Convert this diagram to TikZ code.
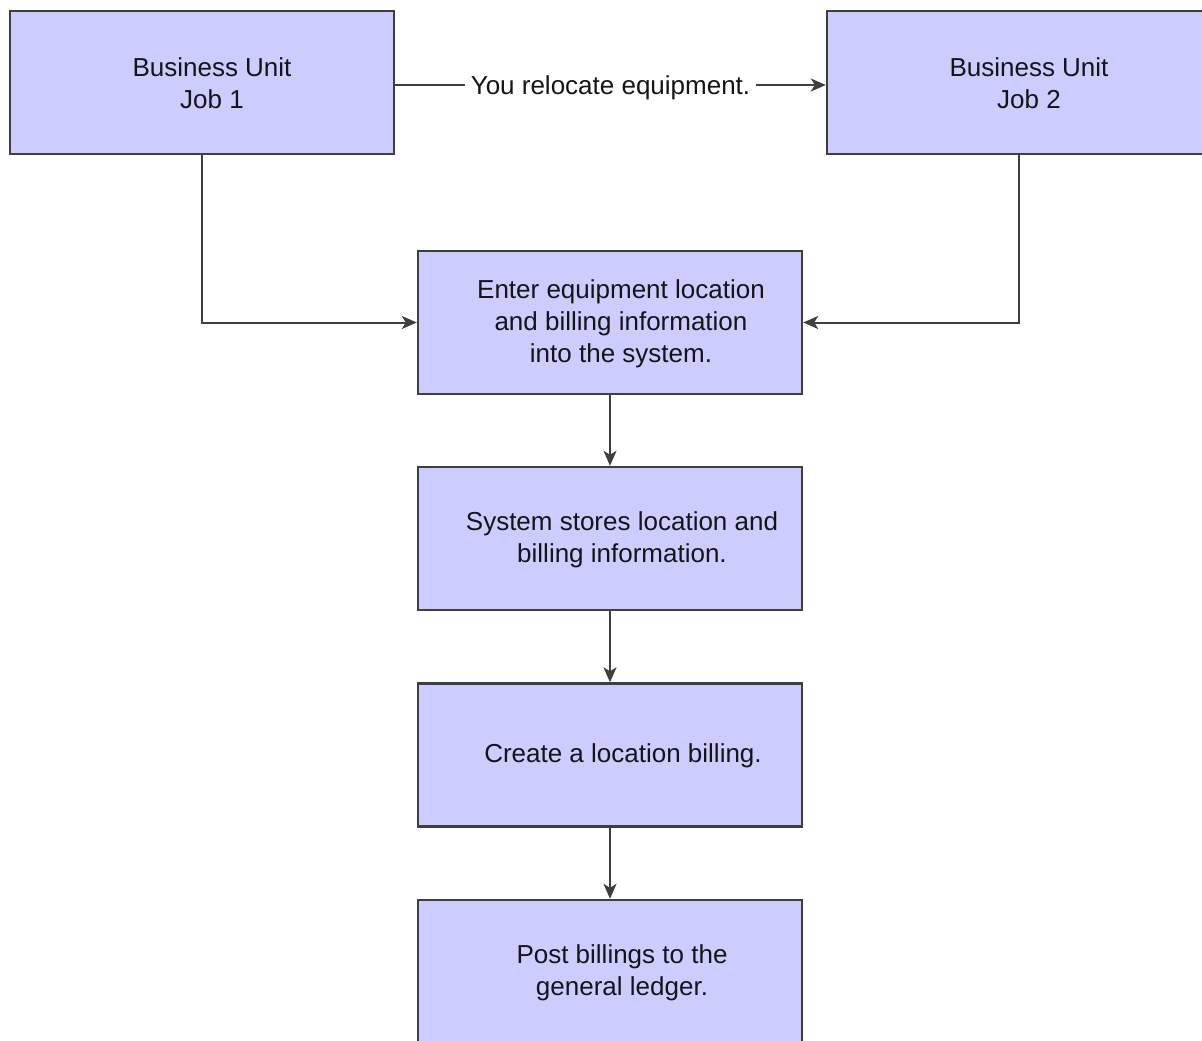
\documentclass[tikz,border=0pt]{standalone}
\usepackage{fontspec}
\setmainfont{Liberation Sans}
\usetikzlibrary{arrows.meta}
\definecolor{boxfill}{HTML}{CCCCFF}
\definecolor{edge}{HTML}{3F3F3F}
\definecolor{ink}{HTML}{151515}
\begin{document}
\begin{tikzpicture}[x=1pt,y=-1pt,
  procbox/.style={draw=edge,fill=boxfill,line width=2.4pt,rectangle,minimum width=384pt,minimum height=143pt,inner sep=0pt},
  boxtext/.style={text=ink,align=center,font=\fontsize{26}{32}\selectfont,inner sep=0pt},
  conn/.style={draw=edge,line width=2pt},
  arr/.style={conn,-{Stealth[length=15pt,width=13pt,inset=4pt]}}]
\clip (0,0) rectangle (1202,1041);
\useasboundingbox (0,0) rectangle (1202,1041);
\node[procbox] (j1) at (202,82.5) {};
\node[procbox] (j2) at (1019,82.5) {};
\node[procbox] (enter) at (610,322.5) {};
\node[procbox] (store) at (610,538.5) {};
\node[procbox] (create) at (610,755) {};
\node[procbox] (post) at (610,971.5) {};
\node[boxtext] (t1) at (212,83) {Business Unit\\Job 1};
\node[boxtext] (t2) at (1029,83) {Business Unit\\Job 2};
\node[boxtext] (t3) at (621,324) {Enter equipment location\\and billing information\\into the system.};
\node[boxtext] (t4) at (622,540) {System stores location and\\billing information.};
\node[boxtext] (t5) at (623,756) {Create a location billing.};
\node[boxtext] (t6) at (622,973) {Post billings to the\\general ledger.};
\draw[arr] (j1.east |- 0,85) -- node[fill=white,text=ink,font=\fontsize{26}{32}\selectfont,inner xsep=6pt,inner ysep=2pt,yshift=-3pt] (lbl) {You relocate equipment.} (j2.west |- 0,85);
\draw[arr] (j1.south) |- (enter.west);
\draw[arr] (j2.south) |- (enter.east);
\draw[arr] (enter.south) -- (store.north);
\draw[arr] (store.south) -- (create.north);
\draw[arr] (create.south) -- (post.north);
\end{tikzpicture}
\end{document}
